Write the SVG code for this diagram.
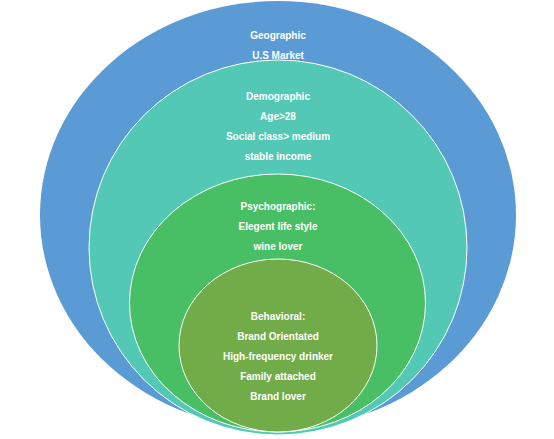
<svg xmlns="http://www.w3.org/2000/svg" width="554" height="439" viewBox="0 0 554 439">
<style>
.ring{stroke:#ffffff;stroke-width:1}
.t{font-family:"Liberation Sans",Arial,sans-serif;font-size:10px;font-weight:bold;fill:#ffffff;text-anchor:middle}
</style>
<rect width="554" height="439" fill="#ffffff"/>
<g id="geographic">
<ellipse cx="278" cy="215" rx="238" ry="214" fill="#5B9BD5"/>
<text class="t" x="278" y="38.5">Geographic</text>
<text class="t" x="278" y="58.5">U.S Market</text>
</g>
<g id="demographic">
<ellipse class="ring" cx="278" cy="247.5" rx="189" ry="187.5" fill="#53C9B5"/>
<text class="t" x="278" y="99.5">Demographic</text>
<text class="t" x="278" y="119.5">Age&gt;28</text>
<text class="t" x="278" y="139.5">Social class&gt; medium</text>
<text class="t" x="278" y="159.5">stable income</text>
</g>
<g id="psychographic">
<ellipse class="ring" cx="277.5" cy="303" rx="148" ry="129" fill="#48BF64"/>
<text class="t" x="278" y="209.5">Psychographic:</text>
<text class="t" x="278" y="229.5">Elegent life style</text>
<text class="t" x="278" y="249.5">wine lover</text>
</g>
<g id="behavioral">
<ellipse class="ring" cx="278" cy="345.5" rx="99" ry="86.5" fill="#71AC48"/>
<text class="t" x="278" y="319.5">Behavioral:</text>
<text class="t" x="278" y="339.5">Brand Orientated</text>
<text class="t" x="278" y="359.5">High-frequency drinker</text>
<text class="t" x="278" y="379.5">Family attached</text>
<text class="t" x="278" y="399.5">Brand lover</text>
</g>
<g id="connectors"></g>
</svg>
